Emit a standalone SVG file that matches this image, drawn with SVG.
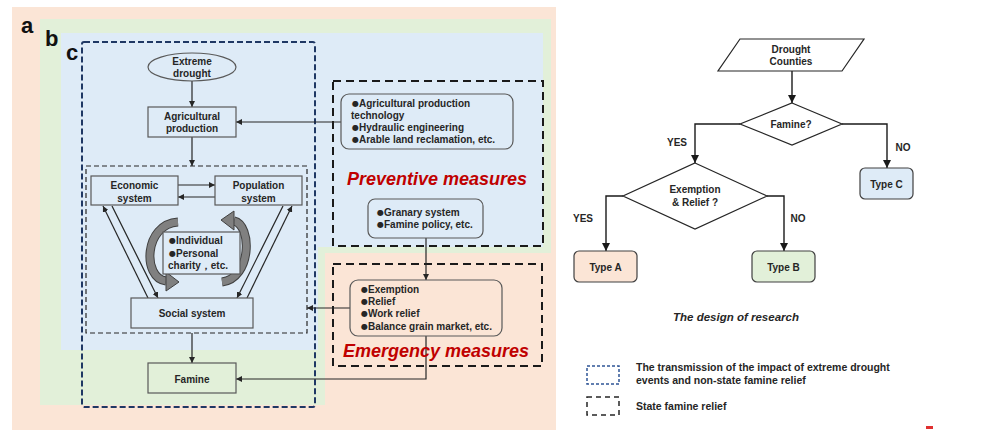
<svg xmlns="http://www.w3.org/2000/svg" width="984" height="430" viewBox="0 0 984 430">
<defs>
<marker id="ah" viewBox="0 0 10 10" refX="10" refY="5" markerWidth="6" markerHeight="6" orient="auto" markerUnits="userSpaceOnUse"><path d="M0,0 L10,5 L0,10 z" fill="#262626"/></marker>
<marker id="ah2" viewBox="0 0 10 10" refX="10" refY="5" markerWidth="8" markerHeight="8" orient="auto" markerUnits="userSpaceOnUse"><path d="M0,0 L10,5 L0,10 z" fill="#1a1a1a"/></marker>
</defs>
<style>
text{font-family:"Liberation Sans",Arial,sans-serif;font-weight:bold;fill:#262626;font-size:10px}
.c{text-anchor:middle}
.b{font-family:"DejaVu Sans",sans-serif;font-size:8px;font-weight:normal;baseline-shift:1.5px}
.box{fill:#DEEBF7;stroke:#595959;stroke-width:1.2}
.rbox{fill:none;stroke:#595959;stroke-width:1.2}
.con{fill:none;stroke:#262626;stroke-width:1.2}
.fc{fill:#FFFFFF;stroke:#262626;stroke-width:1.2}
.fcon{fill:none;stroke:#1a1a1a;stroke-width:1.4}
.red{font-size:18px;font-style:italic;fill:#C00000}
.lab{font-size:22px;fill:#111}
.stated{fill:none;stroke:#1a1a1a;stroke-width:2;stroke-dasharray:8,5}
.curv{fill:none;stroke:#404040;stroke-width:9}
.curv2{fill:none;stroke:#808080;stroke-width:7}
.head{fill:#808080;stroke:#404040;stroke-width:1}
</style>
<rect x="0" y="0" width="984" height="430" fill="#FFFFFF"/>
<!-- backgrounds -->
<rect x="12" y="7" width="544" height="423" fill="#FBE5D6"/>
<path d="M40,19 H551 V253 H325 V405 H40 Z" fill="#E2F0D9"/>
<path d="M61,33 H543 V247 H318 V350 H61 Z" fill="#DEEBF7"/>
<text class="lab" x="21" y="33">a</text>
<text class="lab" x="45" y="46">b</text>
<text class="lab" x="66" y="60">c</text>
<!-- region c dashed -->
<rect id="region-c" x="82" y="42" width="233" height="365" rx="2" fill="none" stroke="#1F3864" stroke-width="2" stroke-dasharray="6,3"/>
<rect id="inner-box" x="86" y="166" width="221" height="167" fill="none" stroke="#262626" stroke-width="1.2" stroke-dasharray="5,3"/>
<rect id="preventive-box" class="stated" x="333" y="81" width="210" height="165"/>
<rect id="emergency-box" class="stated" x="333" y="264" width="209" height="102"/>
<g id="connectors">
<line class="con" x1="192" y1="81" x2="192" y2="107" marker-end="url(#ah)"/>
<line class="con" x1="192" y1="137" x2="192" y2="166" marker-end="url(#ah)"/>
<line class="con" x1="341" y1="122" x2="236" y2="122" marker-end="url(#ah)"/>
<line class="con" x1="178" y1="185" x2="215" y2="185" marker-end="url(#ah)"/>
<line class="con" x1="215" y1="197" x2="178" y2="197" marker-end="url(#ah)"/>
<line class="con" x1="148" y1="298" x2="103" y2="206" marker-end="url(#ah)"/>
<line class="con" x1="112" y1="206" x2="158" y2="298" marker-end="url(#ah)"/>
<line class="con" x1="247" y1="298" x2="292" y2="206" marker-end="url(#ah)"/>
<line class="con" x1="283" y1="206" x2="237" y2="298" marker-end="url(#ah)"/>
<line class="con" x1="192" y1="333" x2="192" y2="363" marker-end="url(#ah)"/>
<line class="con" x1="426" y1="238" x2="426" y2="280" marker-end="url(#ah)"/>
<line class="con" x1="350" y1="308" x2="307" y2="308" marker-end="url(#ah)"/>
<polyline class="con" points="426,336 426,379 236,379" marker-end="url(#ah)"/>
<line class="fcon" x1="792" y1="71" x2="792" y2="103" marker-end="url(#ah2)"/>
<polyline class="fcon" points="740,124 695,124 695,163" marker-end="url(#ah2)"/>
<polyline class="fcon" points="842,124 887,124 887,168" marker-end="url(#ah2)"/>
<polyline class="fcon" points="623,196 606,196 606,251" marker-end="url(#ah2)"/>
<polyline class="fcon" points="767,196 784,196 784,251" marker-end="url(#ah2)"/>
</g>
<g id="cycle-arrows">
<path class="curv" d="M178,222 C144,224 142,278 166,281"/>
<path class="curv2" d="M178,222 C144,224 142,278 166,281"/>
<path class="head" d="M166,272 L179,282 L166,291 Z"/>
<path class="curv" d="M222,282 C252,278 252,225 234,221"/>
<path class="curv2" d="M222,282 C252,278 252,225 234,221"/>
<path class="head" d="M234,211 L221,220 L234,230 Z"/>
</g>
<g id="extreme-drought">
<ellipse class="box" cx="192" cy="67" rx="44" ry="14"/>
<text class="c" x="192" y="65">Extreme</text>
<text class="c" x="192" y="77">drought</text>
</g>
<g id="agricultural-production">
<rect class="box" x="148" y="107" width="88" height="30"/>
<text class="c" x="192" y="120">Agricultural</text>
<text class="c" x="192" y="132">production</text>
</g>
<g id="economic-system">
<rect class="box" x="91" y="176" width="87" height="29"/>
<text class="c" x="134.5" y="189">Economic</text>
<text class="c" x="134.5" y="202">system</text>
</g>
<g id="population-system">
<rect class="box" x="215" y="176" width="87" height="29"/>
<text class="c" x="258.5" y="189">Population</text>
<text class="c" x="258.5" y="202">system</text>
</g>
<g id="individual">
<rect class="box" x="163" y="232" width="77" height="42"/>
<text x="169" y="244"><tspan class="b">●</tspan>Individual</text>
<text x="169" y="257"><tspan class="b">●</tspan>Personal</text>
<text x="168" y="269">charity，etc.</text>
</g>
<g id="social-system">
<rect class="box" x="131" y="298" width="122" height="30"/>
<text class="c" x="192" y="317">Social system</text>
</g>
<g id="famine">
<rect x="148" y="363" width="88" height="30" fill="#E2F0D9" stroke="#595959" stroke-width="1.2"/>
<text class="c" x="192" y="383">Famine</text>
</g>
<g id="preventive-items">
<rect class="rbox" x="341" y="94" width="172" height="55" rx="8"/>
<text x="352" y="107"><tspan class="b">●</tspan>Agricultural  production</text>
<text x="351" y="119">technology</text>
<text x="352" y="131"><tspan class="b">●</tspan>Hydraulic  engineering</text>
<text x="352" y="143"><tspan class="b">●</tspan>Arable land reclamation, etc.</text>
</g>
<text class="red" x="347" y="185">Preventive measures</text>
<g id="granary">
<rect class="rbox" x="368" y="199" width="115" height="39" rx="7"/>
<text x="377" y="216"><tspan class="b">●</tspan>Granary system</text>
<text x="377" y="228"><tspan class="b">●</tspan>Famine policy, etc.</text>
</g>
<g id="emergency-items">
<rect class="rbox" x="350" y="280" width="152" height="56" rx="8"/>
<text x="361" y="293"><tspan class="b">●</tspan>Exemption</text>
<text x="361" y="305"><tspan class="b">●</tspan>Relief</text>
<text x="361" y="317"><tspan class="b">●</tspan>Work relief</text>
<text x="361" y="330"><tspan class="b">●</tspan>Balance grain market, etc.</text>
</g>
<text class="red" x="343" y="357">Emergency measures</text>
<!-- right flowchart -->
<g id="drought-counties">
<path class="fc" d="M740,39 H864 L842,71 H718 Z"/>
<text class="c" x="791" y="53">Drought</text>
<text class="c" x="791" y="65">Counties</text>
</g>
<g id="famine-q">
<path class="fc" d="M792,103 L842,124 L792,145 L740,124 Z"/>
<text class="c" x="791" y="128">Famine?</text>
</g>
<text class="c" x="677" y="146">YES</text>
<text class="c" x="903" y="151">NO</text>
<g id="type-c">
<rect x="860" y="168" width="53" height="31" rx="5" fill="#DEEBF7" stroke="#404040" stroke-width="1.2"/>
<text class="c" x="886.5" y="188">Type C</text>
</g>
<g id="exemption-q">
<path class="fc" d="M695,163 L767,196 L695,229 L623,196 Z"/>
<text class="c" x="695" y="193">Exemption</text>
<text class="c" x="695" y="206">&amp; Relief ?</text>
</g>
<text class="c" x="583" y="222">YES</text>
<text class="c" x="798" y="222">NO</text>
<g id="type-a">
<rect x="574" y="251" width="63" height="31" rx="5" fill="#FBE5D6" stroke="#404040" stroke-width="1.2"/>
<text class="c" x="605.5" y="271">Type A</text>
</g>
<g id="type-b">
<rect x="752" y="251" width="63" height="31" rx="5" fill="#E2F0D9" stroke="#404040" stroke-width="1.2"/>
<text class="c" x="783.5" y="271">Type B</text>
</g>
<text class="c" x="736" y="321" style="font-size:11.5px;font-style:italic">The design of research</text>
<g id="legend">
<rect x="587" y="366" width="32" height="18" fill="none" stroke="#2F5597" stroke-width="1.5" stroke-dasharray="3,2"/>
<text x="636" y="371" style="font-size:10.5px">The transmission of the impact of extreme drought</text>
<text x="636" y="384" style="font-size:10.5px">events and non-state famine relief</text>
<rect x="587" y="397" width="32" height="18" fill="none" stroke="#262626" stroke-width="1.5" stroke-dasharray="5,4"/>
<text x="636" y="410" style="font-size:10.5px">State famine relief</text>
</g>
<rect x="926" y="426" width="7" height="3" fill="#E03030"/>
</svg>
